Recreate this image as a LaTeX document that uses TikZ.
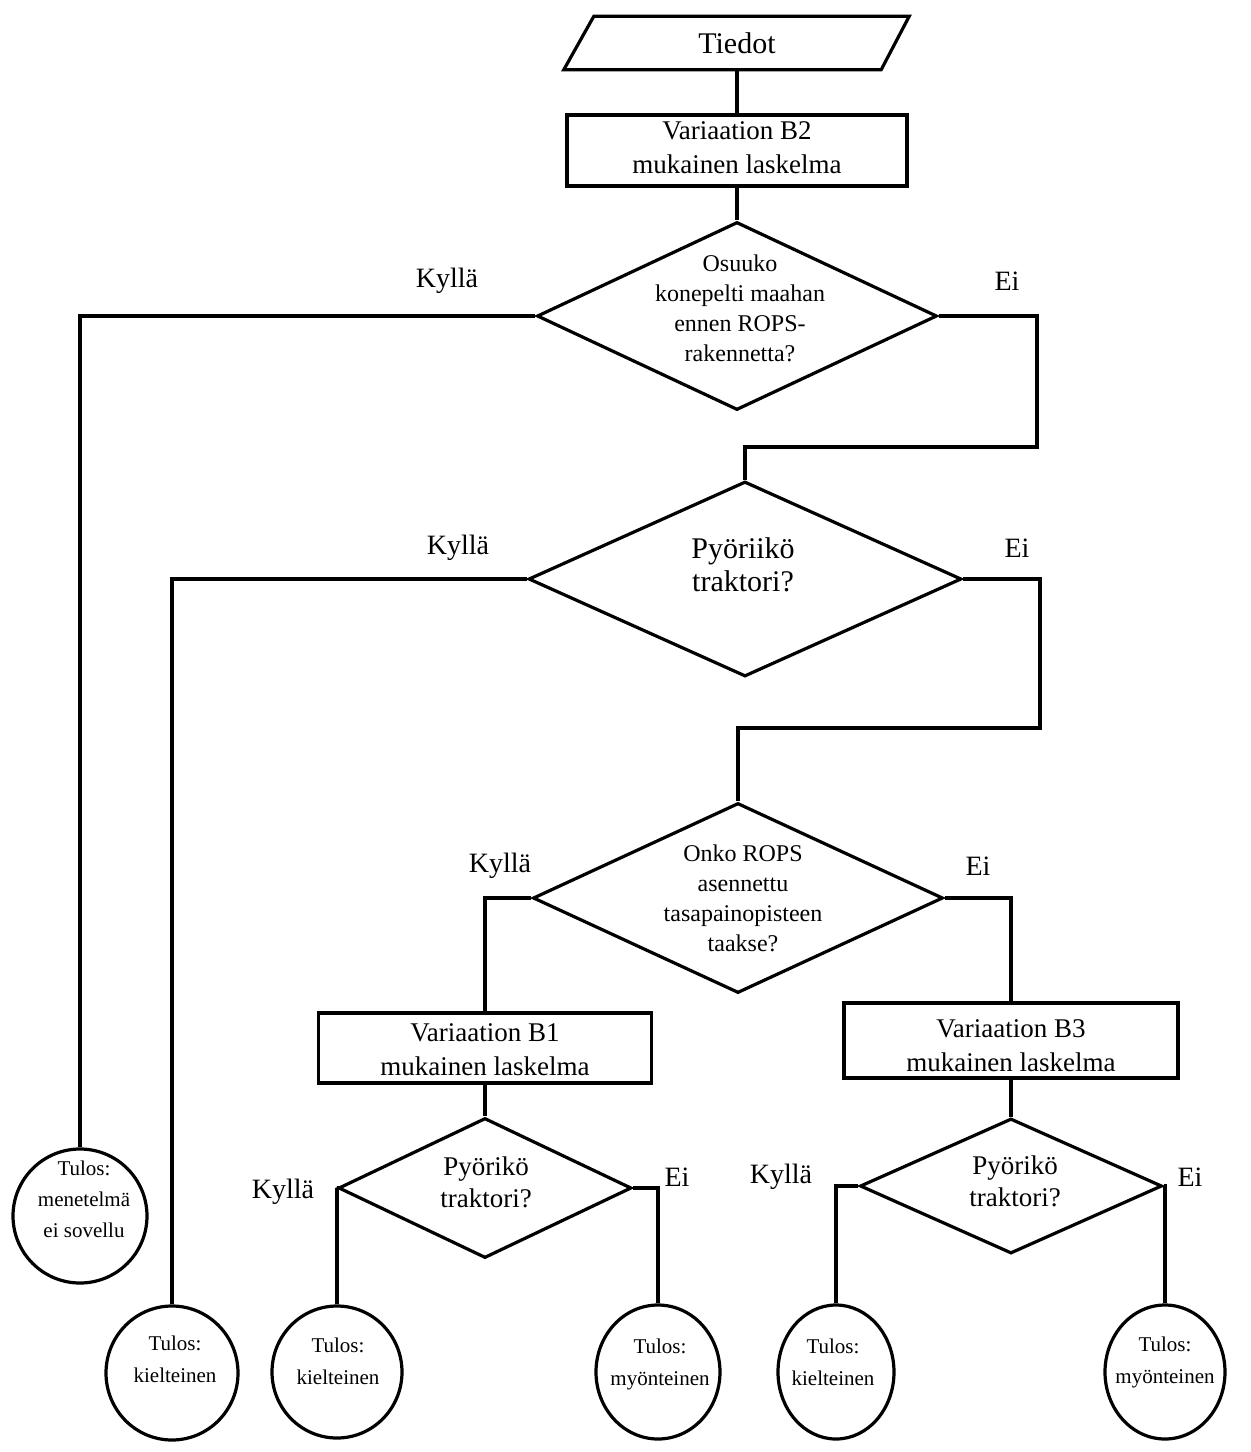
\documentclass[tikz,border=0pt]{standalone}
\usepackage{fontspec}
\setmainfont{Liberation Serif}
\usetikzlibrary{shapes.geometric,calc}
\begin{document}
\begin{tikzpicture}[x=1pt,y=-1pt,
  lw/.style={line width=3.2pt},
  proc/.style={draw,lw,rectangle,inner sep=0pt},
  dec/.style={draw,lw,diamond,inner sep=0pt},
  res/.style={draw,lw,ellipse,inner sep=0pt},
  conn/.style={lw},
  btext/.style={align=center,inner sep=0pt,font=\fontsize{27}{34}\selectfont},
  qtext/.style={align=center,inner sep=0pt,font=\fontsize{24}{30}\selectfont},
  qbig/.style={align=center,inner sep=0pt,font=\fontsize{30}{33}\selectfont},
  qsmall/.style={align=center,inner sep=0pt,font=\fontsize{27}{32}\selectfont},
  rtext/.style={align=center,inner sep=0pt,font=\fontsize{21}{32}\selectfont},
  lab/.style={inner sep=0pt,font=\fontsize{28}{34}\selectfont}]
\useasboundingbox (0,0) rectangle (1251,1452);
% input
\node[minimum width=316pt,minimum height=53pt,inner sep=0pt,font=\fontsize{30}{34}\selectfont] (tiedot) at (737,43) {Tiedot};
\draw[lw,line join=miter] ($(tiedot.north west)+(15,0)$) -- ($(tiedot.north east)+(14,0)$) -- ($(tiedot.south east)+(-14,0)$) -- ($(tiedot.south west)+(-15,0)$) -- cycle;
% boxes
\node[proc,minimum width=340pt,minimum height=71pt] (b2) at (737,150.5) {};
\node[btext] (b2t) at (737,148) {Variaation B2\\mukainen laskelma};
\node[proc,minimum width=333pt,minimum height=70pt] (b1) at (485,1048) {};
\node[btext] (b1t) at (485,1050) {Variaation B1\\mukainen laskelma};
\node[proc,minimum width=334pt,minimum height=75pt] (b3) at (1011,1040.5) {};
\node[btext] (b3t) at (1011,1046) {Variaation B3\\mukainen laskelma};
% decisions
\node[dec,minimum width=400pt,minimum height=188pt] (d1) at (737,316) {};
\node[qtext] (d1t) at (740,308) {Osuuko\\konepelti maahan\\ennen ROPS-\\rakennetta?};
\node[dec,minimum width=433pt,minimum height=195pt] (d2) at (745,579) {};
\node[qbig] (d2t) at (743,565) {Pyöriikö\\traktori?};
\node[dec,minimum width=410pt,minimum height=190pt] (d3) at (738,898) {};
\node[qtext] (d3t) at (743,898) {Onko ROPS\\asennettu\\tasapainopisteen\\taakse?};
\node[dec,minimum width=293pt,minimum height=140pt] (d4) at (485,1188) {};
\node[qsmall] (d4t) at (486,1182) {Pyörikö\\traktori?};
\node[dec,minimum width=302pt,minimum height=135pt] (d5) at (1011,1186) {};
\node[qsmall] (d5t) at (1015,1181) {Pyörikö\\traktori?};
% results
\node[res,minimum width=134pt,minimum height=134pt] (c1) at (80,1216) {};
\node[rtext,font=\fontsize{21}{31}\selectfont] (c1t) at (84,1199) {Tulos:\\menetelmä\\ei sovellu};
\node[res,minimum width=132pt,minimum height=134pt] (c2) at (172,1373) {};
\node[rtext] (c2t) at (175,1359) {Tulos:\\kielteinen};
\node[res,minimum width=130pt,minimum height=132pt] (c3) at (337,1372) {};
\node[rtext] (c3t) at (338,1361) {Tulos:\\kielteinen};
\node[res,minimum width=124pt,minimum height=134pt] (c4) at (658,1372) {};
\node[rtext] (c4t) at (660,1364) {Tulos:\\myönteinen};
\node[res,minimum width=116pt,minimum height=134pt] (c5) at (836,1372) {};
\node[rtext] (c5t) at (833,1362) {Tulos:\\kielteinen};
\node[res,minimum width=120pt,minimum height=134pt] (c6) at (1165,1372) {};
\node[rtext] (c6t) at (1165,1362) {Tulos:\\myönteinen};
% labels
\node[lab] (k1) at (447,281) {Kyllä};
\node[lab] (e1) at (1007,281) {Ei};
\node[lab] (k2) at (458,548) {Kyllä};
\node[lab] (e2) at (1017,548) {Ei};
\node[lab] (k3) at (500,866) {Kyllä};
\node[lab] (e3) at (978,866) {Ei};
\node[lab] (k4) at (283,1192) {Kyllä};
\node[lab] (e4) at (677,1177) {Ei};
\node[lab] (k5) at (781,1177) {Kyllä};
\node[lab] (e5) at (1190,1177) {Ei};
% connectors
\coordinate (j1) at (1037,447);
\coordinate (j2) at (1040,728);
\draw[conn] (tiedot) -- (b2);
\draw[conn] (b2) -- (d1);
\draw[conn] (d1.west) -| (c1.north);
\draw[conn] (d1.east) -| (j1) -| (d2.north);
\draw[conn] (d2.west) -| (c2.north);
\draw[conn] (d2.east) -| (j2) -| (d3.north);
\draw[conn] (d3.west) -| (b1.north);
\draw[conn] (d3.east) -| (b3.north);
\draw[conn] (b1.south) -- (d4.north);
\draw[conn] (b3.south) -- (d5.north);
\draw[conn] (d4.west) -| (c3.north);
\draw[conn] (d4.east) -| (c4.north);
\draw[conn] (d5.west) -| (c5.north);
\draw[conn] (d5.east) -| (c6.north);
\end{tikzpicture}
\end{document}
